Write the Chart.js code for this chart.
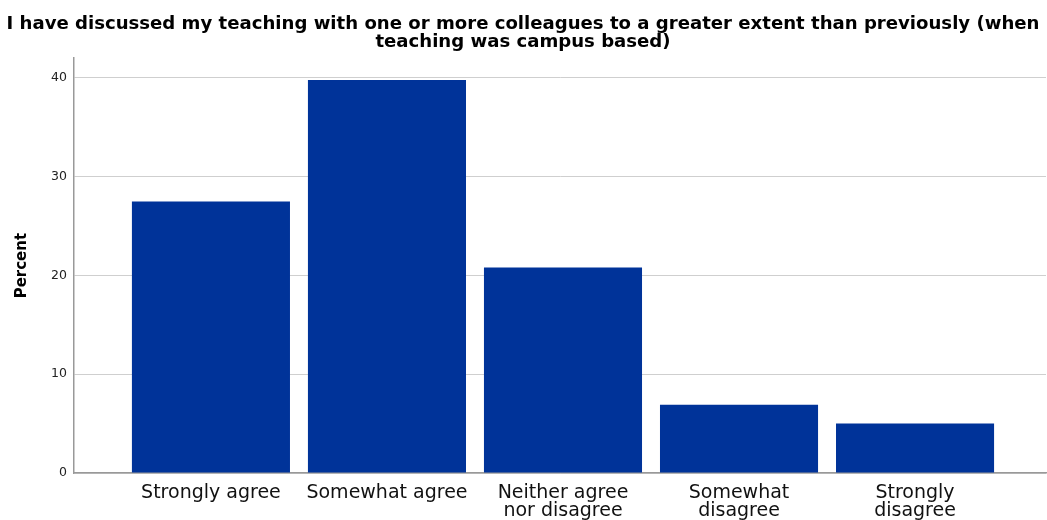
<!DOCTYPE html>
<html><head><meta charset="utf-8">
<script src="https://cdn.jsdelivr.net/npm/chart.js@4/dist/chart.umd.min.js"></script>
<style>html,body{margin:0;padding:0;background:#fff}#wrap{width:1047px;height:520px}</style>
</head><body><div id="wrap"><canvas id="c" width="1047" height="520"></canvas></div>
<script>
const titleLines = ["I have discussed my teaching with one or more colleagues to a greater extent than previously (when", "teaching was campus based)"];
const categories = [["Strongly agree"], ["Somewhat agree"], ["Neither agree", "nor disagree"], ["Somewhat", "disagree"], ["Strongly", "disagree"]];
const percentValues = [27.5, 39.8, 20.8, 6.9, 5.0];
const yTicks = [0, 10, 20, 30, 40];
const yAxisTitle = "Percent";

const points = percentValues.map((v, i) => ({ x: i, y: v }));

new Chart(document.getElementById('c'), {
  type: 'bar',
  data: {
    datasets: [{
      data: points,
      backgroundColor: '#003399',
      borderWidth: 0,
      barPercentage: 0.898,
      categoryPercentage: 1
    }]
  },
  options: {
    responsive: false,
    animation: false,
    devicePixelRatio: 1,
    layout: { padding: { left: 0, right: 1, top: 0, bottom: 0 } },
    plugins: {
      legend: { display: false },
      tooltip: { enabled: false },
      title: {
        display: true,
        text: titleLines,
        color: '#000',
        font: { family: 'DejaVu Sans', size: 18.1, weight: 'bold', lineHeight: 1.0 },
        padding: { top: 15, bottom: 7 }
      }
    },
    scales: {
      x: {
        type: 'linear',
        offset: false,
        min: -0.778,
        max: 4.744,
        afterBuildTicks: s => { s.ticks = categories.map((c, i) => ({ value: i })); },
        afterFit: s => { s.height = 47; },
        grid: { display: false, drawTicks: false, offset: false },
        border: { display: true, color: '#999', width: 1.5 },
        ticks: {
          autoSkip: false,
          maxRotation: 0,
          padding: 11,
          color: '#111',
          font: { family: 'DejaVu Sans', size: 19, lineHeight: 0.95 },
          callback: v => categories[v] || ''
        }
      },
      y: {
        min: 0,
        max: 42,
        afterBuildTicks: s => { s.ticks = yTicks.map(v => ({ value: v })); },
        afterFit: s => { s.width = 74; },
        grid: { color: '#cfcfcf', lineWidth: 1, drawTicks: false },
        border: { display: true, color: '#999', width: 1.5 },
        ticks: {
          padding: 7,
          color: '#222',
          font: { family: 'DejaVu Sans', size: 12.5 }
        },
        title: {
          display: true,
          text: yAxisTitle,
          color: '#000',
          font: { family: 'DejaVu Sans', size: 15, weight: 'bold', lineHeight: 1.2 },
          padding: { top: 13, bottom: 0 }
        }
      }
    }
  }
});
</script></body></html>
